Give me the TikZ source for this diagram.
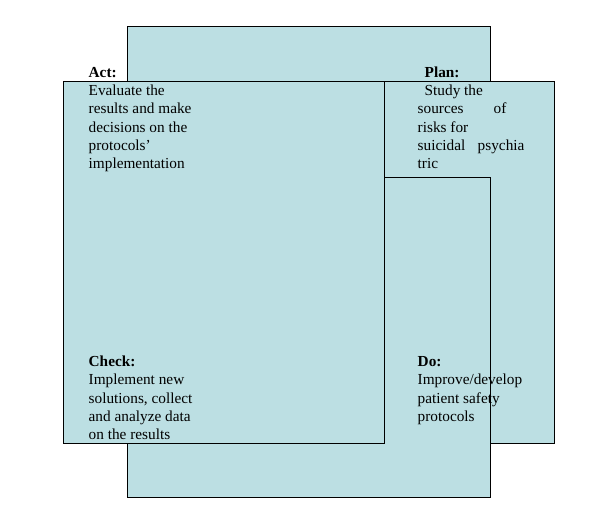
\documentclass[tikz,border=0pt]{standalone}
\usepackage{fontspec}
\setmainfont{Liberation Serif}
\definecolor{boxfill}{HTML}{BCDFE3}
\begin{document}
\begin{tikzpicture}[x=1pt,y=-1pt,
  box/.style={draw=black,fill=boxfill,line width=1pt,rectangle,inner sep=0pt,outer sep=0pt,anchor=north west},
  edge/.style={draw=black,line width=1pt,line cap=rect},
  txt/.style={inner sep=0pt,anchor=base west,font=\fontsize{15.3}{18}\selectfont}]
\useasboundingbox (-0.5,-0.5) rectangle (614.5,524.5);
\node[box,minimum width=363pt,minimum height=471pt] (tall) at (127,26) {};
\node[box,minimum width=170pt,minimum height=362pt] (plan) at (384,81) {};
\node[box,draw=none,minimum width=106pt,minimum height=320pt] (do) at (384,177) {};
\draw[edge] (do.north west) -- (do.north east) -- (do.south east) -- (do.south west);
\node[box,minimum width=321pt,minimum height=362pt] (act) at (63,81) {};
% Act
\node[txt] (t1) at (88,77) {\bfseries Act:};
\node[txt] (t2) at (88,95) {Evaluate the};
\node[txt] (t3) at (88,113.3) {results and make};
\node[txt] (t4) at (88,131.6) {decisions on the};
\node[txt] (t5) at (88,149.9) {protocols’};
\node[txt] (t6) at (88,168.2) {implementation};
% Plan
\node[txt] (p1) at (424,77) {\bfseries Plan:};
\node[txt] (p2) at (424,95) {Study the};
\node[txt] (p3) at (417,113.3) {sources};
\node[txt] (p3b) at (493,113.3) {of};
\node[txt] (p4) at (417,131.6) {risks for};
\node[txt] (p5) at (417,149.9) {suicidal};
\node[txt] (p5b) at (477,149.9) {psychia};
\node[txt] (p6) at (417,168.2) {tric};
% Check
\node[txt] (c1) at (88,366) {\bfseries Check:};
\node[txt] (c2) at (88,384.3) {Implement new};
\node[txt] (c3) at (88,402.6) {solutions, collect};
\node[txt] (c4) at (88,420.9) {and analyze data};
\node[txt] (c5) at (88,439.2) {on the results};
% Do
\node[txt] (d1) at (417,366) {\bfseries Do:};
\node[txt] (d2) at (417,384.3) {Improve/develop};
\node[txt] (d3) at (417,402.6) {patient safety};
\node[txt] (d4) at (417,420.9) {protocols};
\end{tikzpicture}
\end{document}
